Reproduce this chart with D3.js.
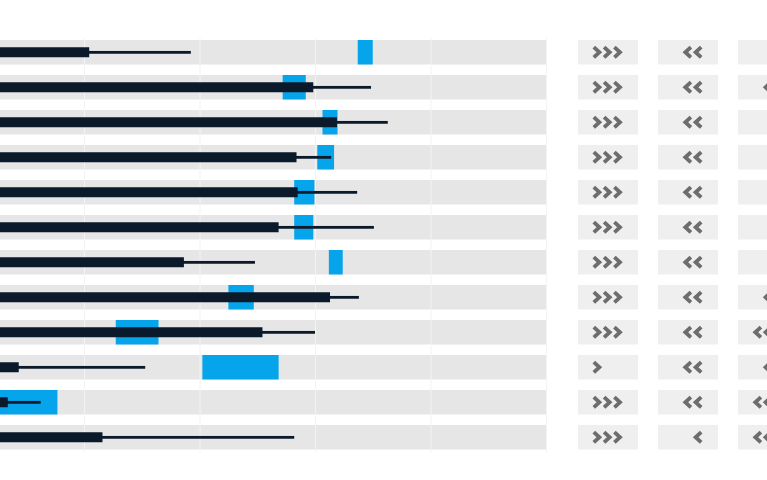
<!DOCTYPE html>
<html>
<head>
<meta charset="utf-8">
<script src="https://cdn.jsdelivr.net/npm/d3@7"></script>
<style>
  html, body { margin: 0; padding: 0; background: #ffffff; }
  svg { display: block; }
</style>
</head>
<body>
<svg id="chart" width="767" height="480"></svg>
<script>
// ---- data ----
const rows = ["R1","R2","R3","R4","R5","R6","R7","R8","R9","R10","R11","R12"];
const barValues  = [20.9, 59.7, 63.8, 56.8, 57.0, 53.7, 37.3, 62.6, 50.9, 8.7, 6.8, 23.2];
const lineValues = [38.5, 69.7, 72.6, 62.8, 67.3, 70.2, 49.6, 67.6, 60.0, 30.6, 12.5, 56.4];
const rangeLow   = [67.4, 54.4, 61.3, 60.4, 56.4, 56.4, 62.4, 45.0, 25.5, 40.5, 0.0, null];
const rangeHigh  = [70.0, 58.4, 63.9, 63.3, 59.9, 59.7, 64.8, 49.4, 32.9, 53.7, 15.4, null];
const tickValues = [20, 40, 60, 80, 100];
const statusColumns = ["up", "down", "down2"];
const upCounts    = [3,3,3,3,3,3,3,3,3,1,3,3];
const downCounts  = [2,2,2,2,2,2,2,2,2,2,2,1];
const down2Counts = [0,1,0,0,0,0,0,1,2,1,2,2];

// ---- colours ----
const BAND = "#e6e6e6", GRID = "#f3f3f3", DARK = "#0a1a2a", BLUE = "#06a4ea",
      BOX = "#efefef", CHEV = "#6d6d6d";

const svg = d3.select("#chart");

const x = d3.scaleLinear().domain([0, 100]).range([-31.5, 546]);
const y = d3.scaleBand().domain(rows).range([34.75, 454.75])
  .paddingInner(0.3).paddingOuter(0.15);
const bw = y.bandwidth();
const cx = d3.scaleBand().domain(statusColumns).range([568, 808])
  .paddingInner(0.25).paddingOuter(0.125);

const data = rows.map((r, i) => ({
  r, bar: barValues[i], line: lineValues[i], lo: rangeLow[i], hi: rangeHigh[i],
  counts: [upCounts[i], downCounts[i], down2Counts[i]]
}));

// bands
svg.append("g").selectAll("rect").data(data).join("rect")
  .attr("x", x(0)).attr("width", x(100) - x(0))
  .attr("y", d => y(d.r)).attr("height", bw)
  .attr("fill", BAND);

// gridlines
svg.append("g").selectAll("line").data(tickValues).join("line")
  .attr("x1", d => x(d) + 0.5).attr("x2", d => x(d) + 0.5)
  .attr("y1", y(rows[0]) - 2).attr("y2", y(rows[rows.length - 1]) + bw + 3)
  .attr("stroke", GRID).attr("stroke-width", 1);

// blue ranges
svg.append("g").selectAll("rect").data(data.filter(d => d.lo !== null)).join("rect")
  .attr("x", d => x(d.lo)).attr("width", d => x(d.hi) - x(d.lo))
  .attr("y", d => y(d.r)).attr("height", bw)
  .attr("fill", BLUE);

// thin lines
svg.append("g").selectAll("rect").data(data).join("rect")
  .attr("x", x(0)).attr("width", d => x(d.line) - x(0))
  .attr("y", d => y(d.r) + bw / 2 - 1.3).attr("height", 2.8)
  .attr("fill", DARK);

// thick bars
svg.append("g").selectAll("rect").data(data).join("rect")
  .attr("x", x(0)).attr("width", d => x(d.bar) - x(0))
  .attr("y", d => y(d.r) + bw / 2 - 5).attr("height", 10)
  .attr("fill", DARK);

// status boxes
const boxW = cx.bandwidth();
const pitch = 10.3;
const anchors = { up: 14, down: 45, down2: 35 }; // offsets from box left
statusColumns.forEach((col, ci) => {
  const g = svg.append("g");
  g.selectAll("rect").data(data).join("rect")
    .attr("x", cx(col)).attr("width", boxW)
    .attr("y", d => y(d.r)).attr("height", bw)
    .attr("fill", BOX);
  data.forEach(d => {
    const n = d.counts[ci];
    const yc = y(d.r) + bw / 2;
    for (let k = 0; k < n; k++) {
      let p;
      if (col === "up") {
        const l = cx(col) + anchors[col] + k * pitch;
        p = `M${l + 1.8},${yc - 5.2}L${l + 7.4},${yc}L${l + 1.8},${yc + 5.2}`;
      } else {
        const r = cx(col) + anchors[col] - k * pitch;
        p = `M${r - 1.8},${yc - 5.2}L${r - 7.4},${yc}L${r - 1.8},${yc + 5.2}`;
      }
      g.append("path").attr("d", p)
        .attr("fill", "none").attr("stroke", CHEV)
        .attr("stroke-width", 3.8).attr("stroke-linejoin", "miter");
    }
  });
});
</script>
</body>
</html>
